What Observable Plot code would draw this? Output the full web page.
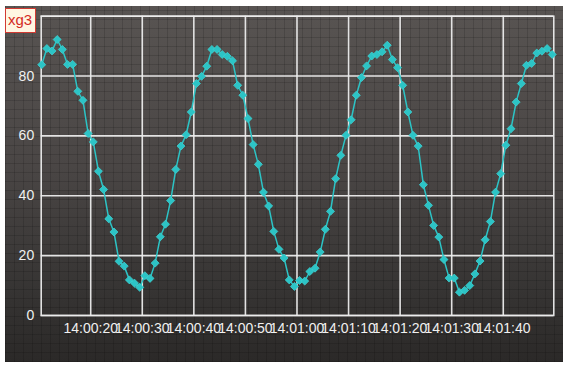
<!DOCTYPE html>
<html>
<head>
<meta charset="utf-8">
<script src="https://cdn.jsdelivr.net/npm/d3@7"></script>
<script src="https://cdn.jsdelivr.net/npm/@observablehq/plot@0.6"></script>
<style>
  html, body { margin: 0; padding: 0; background: #ffffff; }
  #wrap { position: relative; width: 570px; height: 365px; overflow: hidden; font-family: "Liberation Sans", Arial, sans-serif; }
  #panel {
    position: absolute; left: 5px; top: 6px; width: 558px; height: 356px;
    background:
      repeating-linear-gradient(0deg, rgba(0,0,0,0.14) 0px, rgba(0,0,0,0.14) 1px, transparent 1px, transparent 9px),
      repeating-linear-gradient(90deg, rgba(0,0,0,0.14) 0px, rgba(0,0,0,0.14) 1px, transparent 1px, transparent 9px),
      linear-gradient(180deg, #585452 0%, #4a4645 45%, #363433 80%, #2b2928 100%);
  }
  #chart { position: absolute; left: 0; top: 0; }
  #chart svg { background: transparent; }
  #chart svg text { font-size: 14px; font-family: "Liberation Sans", Arial, sans-serif; }
  #legend {
    position: absolute; left: 5px; top: 8px; padding: 2px 3px 4px 2px;
    border: 1px solid #d23a32; background: #fff6e2; color: #d42a22;
    font: 15px "Liberation Sans", Arial, sans-serif; line-height: 17px;
  }
</style>
</head>
<body>
<div id="wrap">
  <div id="panel"></div>
  <div id="chart"></div>
  <div id="legend">xg3</div>
</div>
<script>
// ---- data ----
const seriesName = "xg3";
const firstSampleTime = "14:00:10.500";   // first sample timestamp
const sampleStepSeconds = 1;              // samples are one second apart
const values = [
  83.8, 89.2, 88.4, 92.2, 88.9, 83.9, 83.9, 74.9, 71.9, 60.8,
  58.0, 48.2, 42.1, 32.3, 27.9, 18.1, 16.5, 11.9, 10.8, 9.4,
  13.3, 12.4, 17.5, 26.3, 30.5, 38.4, 48.8, 56.6, 60.4, 68.0,
  77.5, 79.9, 83.3, 88.9, 88.9, 87.2, 86.6, 85.1, 76.9, 73.6,
  65.8, 57.1, 50.5, 41.2, 36.6, 28.1, 22.1, 19.2, 11.9, 9.7,
  11.7, 11.5, 14.7, 15.8, 21.2, 28.8, 34.8, 45.7, 53.5, 60.2,
  65.4, 73.6, 79.5, 83.4, 86.7, 87.2, 88.1, 90.3, 85.5, 82.8,
  76.9, 68.0, 60.2, 56.6, 43.7, 36.8, 30.1, 26.2, 18.7, 12.5,
  12.5, 7.8, 8.4, 10.0, 13.9, 18.2, 25.3, 31.4, 41.2, 47.4,
  56.9, 62.4, 71.3, 77.5, 83.6, 84.2, 87.7, 88.3, 89.2, 87.2
];
const xTickLabels = ["14:00:20", "14:00:30", "14:00:40", "14:00:50", "14:01:00", "14:01:10", "14:01:20", "14:01:30", "14:01:40"];
const xDomainLabels = ["14:00:10.400", "14:01:49.800"];
const yTicks = [0, 20, 40, 60, 80];
const yGrid = [0, 20, 40, 60, 80, 100];
const yDomain = [0, 100];

// ---- build ----
const parseMs = d3.utcParse("%H:%M:%S.%L");
const parseS = d3.utcParse("%H:%M:%S");
const t0 = parseMs(firstSampleTime);
const data = values.map((v, i) => ({ time: d3.utcSecond.offset(t0, i * sampleStepSeconds), value: v }));
const xTicks = xTickLabels.map(parseS);
const fmt = d3.utcFormat("%H:%M:%S");

const lineColor = "#2cc4c6";
const gridColor = "#ececec";
const textColor = "#f0f0f0";

const chart = Plot.plot({
  width: 570,
  height: 365,
  marginLeft: 40.7,
  marginRight: 16.7,
  marginTop: 15.7,
  marginBottom: 50,
  style: { background: "transparent", fontFamily: "'Liberation Sans', Arial, sans-serif", fontSize: "14px", color: textColor },
  x: { type: "utc", domain: xDomainLabels.map(parseMs) },
  y: { domain: yDomain },
  marks: [
    Plot.gridX(xTicks, { stroke: gridColor, strokeOpacity: 0.95, strokeWidth: 1.6 }),
    Plot.gridY(yGrid, { stroke: gridColor, strokeOpacity: 0.95, strokeWidth: 1.6 }),
    Plot.frame({ stroke: gridColor, strokeOpacity: 0.95, strokeWidth: 1.6 }),
    Plot.axisX(xTicks, { tickSize: 0, tickPadding: 8, tickFormat: fmt, fill: textColor, fontSize: 14, label: null }),
    Plot.axisY(yTicks, { tickSize: 0, tickPadding: 7, fill: textColor, fontSize: 14, label: null }),
    Plot.line(data, { x: "time", y: "value", stroke: lineColor, strokeWidth: 1.5 }),
    Plot.dot(data, { x: "time", y: "value", symbol: "diamond2", r: 3.6, fill: lineColor, stroke: "#3fd2d2", strokeWidth: 0.8 })
  ]
});
document.getElementById("chart").appendChild(chart);
</script>
</body>
</html>
